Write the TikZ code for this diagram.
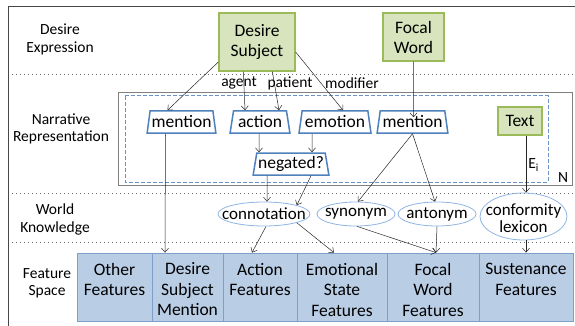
\documentclass[tikz,border=0pt]{standalone}
\usepackage{fontspec}
\setmainfont{Carlito}
\usetikzlibrary{shapes.geometric,arrows.meta}
\definecolor{gfill}{HTML}{D7E4BD}
\definecolor{gdraw}{HTML}{9BBB59}
\definecolor{bdraw}{HTML}{4F81BD}
\definecolor{edraw}{HTML}{8EB4E3}
\definecolor{ffill}{HTML}{B9CDE5}
\definecolor{fdraw}{HTML}{7F9FCB}
\definecolor{ink}{HTML}{262626}
\begin{document}
\begin{tikzpicture}[x=1pt,y=-1pt,
 greenbox/.style={draw=gdraw, fill=gfill, line width=1.3pt, align=center, inner sep=0pt, font=\fontsize{17.5}{20}\selectfont},
 trap/.style={trapezium, trapezium left angle=77, trapezium right angle=77, trapezium stretches=true, draw=bdraw, line width=1.5pt, fill=white, minimum height=22pt, inner sep=0pt, font=\fontsize{17.5}{20}\selectfont},
 oval/.style={ellipse, draw=edraw, line width=0.8pt, inner sep=0pt, minimum height=24pt},
 ovaltext/.style={inner sep=0pt, align=center, font=\fontsize{17}{16.5}\selectfont},
 feat/.style={draw=fdraw, fill=ffill, line width=0.8pt, minimum height=68pt, inner sep=0pt},
 feattext/.style={inner sep=0pt, align=center, font=\fontsize{17.5}{20.5}\selectfont},
 side/.style={align=center, inner sep=0pt, font=\fontsize{15.5}{17.5}\selectfont},
 elab/.style={inner sep=0pt, font=\fontsize{15.5}{17}\selectfont},
 arr/.style={draw=ink, line width=0.5pt, -{Straight Barb[length=4pt,width=7pt]}},
 sepline/.style={draw=ink!70, line width=0.8pt, dash pattern=on 0.8pt off 3.2pt},
]
\path[use as bounding box] (0,0) rectangle (575,326);
% frame
\draw[ink!85, line width=0.8pt] (575,6) -- (8,6) -- (8,326);
% dotted separators
\draw[sepline] (12,74) -- (575,74);
\draw[sepline] (12,193) -- (575,193);
\draw[sepline] (12,242) -- (575,242);
% plate boxes
\draw[gray, line width=0.8pt] (118,92) rectangle (572,185);
\draw[bdraw!85, line width=1pt, dash pattern=on 4pt off 2pt] (125,96) rectangle (548,182);
\node[elab] (nlab) at (563,178) {N};

% side labels
\node[side] (l1) at (60,39.5) {Desire\\Expression};
\node[side] (l2) at (61,129) {Narrative\\Representation};
\node[side] (l3) at (55,219.5) {World\\Knowledge};
\node[side] (l4) at (47,283.5) {Feature\\Space};

% top boxes
\node[greenbox, minimum width=76pt, minimum height=58pt] (ds) at (257,42) {Desire\\Subject};
\node[greenbox, minimum width=61pt, minimum height=48pt] (fw) at (413.5,37) {Focal\\Word};

% narrative
\node[trap, minimum width=69pt] (m1) at (181.5,122) {mention};
\node[trap, minimum width=60pt] (act) at (260,122) {action};
\node[trap, minimum width=72pt] (emo) at (335,122) {emotion};
\node[trap, minimum width=71pt] (m2) at (412.5,122) {mention};
\node[trap, minimum width=76pt] (neg) at (291,164) {negated?};
\node[greenbox, minimum width=44pt, minimum height=28pt] (txt) at (520,121) {Text};

% world knowledge
\node[oval, minimum width=92pt] (con) at (264,214) {};
\node[ovaltext] (contx) at (264,214) {connotation};
\node[oval, minimum width=78pt] (syn) at (356,214) {};
\node[ovaltext] (syntx) at (356,214) {synonym};
\node[oval, minimum width=78pt] (ant) at (437,214) {};
\node[ovaltext] (anttx) at (437,214) {antonym};
\node[oval, minimum width=87pt, minimum height=47pt] (cl) at (523.5,216.5) {};
\node[ovaltext] (cltx) at (523.5,218) {conformity\\lexicon};

% features
\node[feat, minimum width=75pt] (of) at (114.5,287) {};
\node[feat, minimum width=71pt] (dsm) at (187.5,287) {};
\node[feat, minimum width=74pt] (af) at (260,287) {};
\node[feat, minimum width=90pt] (esf) at (342,287) {};
\node[feat, minimum width=92pt] (fwf) at (433,287) {};
\node[feat, minimum width=94pt] (sus) at (526,287) {};
\node[feattext] (oftx) at (114.5,279.5) {Other\\Features};
\node[feattext] (dsmtx) at (187.5,289.5) {Desire\\Subject\\Mention};
\node[feattext] (aftx) at (260,279.5) {Action\\Features};
\node[feattext] (esftx) at (342,289.5) {Emotional\\State\\Features};
\node[feattext] (fwftx) at (433,289.5) {Focal\\Word\\Features};
\node[feattext] (sustx) at (526,279.5) {Sustenance\\Features};

% edges from desire subject
\draw[arr] ([yshift=-20pt]ds.west) -- ([xshift=-14pt]m1.north);
\draw[arr] ([xshift=25pt]ds.south west) -- ([xshift=-15pt]act.north);
\draw[arr] ([xshift=54pt]ds.south west) -- ([xshift=19pt]act.north);
\draw[arr] ([yshift=-10pt]ds.east) -- ([xshift=8pt]emo.north);
\node[elab] (agentlab) at (239,83) {agent};
\node[elab] (patientlab) at (290,83) {patient};
\node[elab] (modlab) at (352,83) {modifier};
\draw[arr] (fw.south) -- ([xshift=1pt,yshift=-7pt]m2.north);

% narrative edges
\draw[arr] ([xshift=-16pt]m1.south) -- ([xshift=-22.5pt]dsm.north);
\draw[arr] ([xshift=-1pt]act.south) -- ([xshift=-32pt]neg.north);
\draw[arr] ([xshift=-23pt]emo.south) -- ([xshift=21pt]neg.north);
\draw[arr] (m2.south) -- ([xshift=2pt]syn.north);
\draw[arr] (m2.south) -- ([xshift=-2pt]ant.north);
\draw[arr] ([xshift=-24pt]neg.south) -- ([xshift=3pt]con.north);
\draw[arr] ([xshift=20pt]neg.south) -- (con.north east);
\draw[arr] ([xshift=6pt]txt.south) -- node[elab, pos=0.52, right=2pt] (eilab) {E\textsubscript{i}} ([xshift=2.5pt]cl.north);

% world knowledge edges
\draw[arr] ([xshift=2pt]con.south) -- ([xshift=-8pt]af.north);
\draw[arr] (con.south east) -- ([xshift=-8pt]esf.north);
\draw[arr] ([xshift=1pt]syn.south) -- ([xshift=3pt]fwf.north);
\draw[arr] (ant.south) -- ([xshift=3pt]fwf.north);
\draw[arr] ([xshift=2.5pt]cl.south) -- (sus.north);
\end{tikzpicture}
\end{document}
